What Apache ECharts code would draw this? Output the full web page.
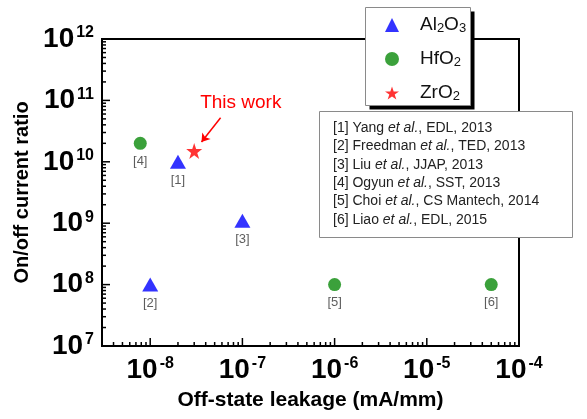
<!DOCTYPE html>
<html><head><meta charset="utf-8">
<script src="https://cdn.jsdelivr.net/npm/echarts@6/dist/echarts.min.js"></script>
<style>html,body{margin:0;padding:0;background:#fff}#c{width:587px;height:419px}</style>
</head><body><div id="c"></div>
<script>
const FONT = "'Liberation Sans', Arial, Helvetica, sans-serif";

// ---- data ----
const al2o3X = [2e-8, 1e-8, 1e-7];
const al2o3Y = [1e10, 1e8, 1.1e9];
const al2o3Labels = ['[1]', '[2]', '[3]'];
const hfo2X = [7.8e-9, 1e-6, 5e-5];
const hfo2Y = [2e10, 1e8, 1e8];
const hfo2Labels = ['[4]', '[5]', '[6]'];
const zro2X = [3e-8];
const zro2Y = [1.5e10];
const xMin = 3e-9, xMax = 1e-4;
const yMin = 1e7, yMax = 1e12;
const xDecades = [-9, -8, -7, -6, -5, -4];
const yDecades = [7, 8, 9, 10, 11, 12];
const seriesNames = ['Al2O3', 'HfO2', 'ZrO2'];
const legendRich = ['{n|Al}{sub|2}{n|O}{sub|3}', '{n|HfO}{sub|2}', '{n|ZrO}{sub|2}'];
const refs = [
  ['[1] Yang ', 'et al.', ', EDL, 2013'],
  ['[2] Freedman ', 'et al.', ', TED, 2013'],
  ['[3] Liu ', 'et al.', ', JJAP, 2013'],
  ['[4] Ogyun ', 'et al.', ', SST, 2013'],
  ['[5] Choi ', 'et al.', ', CS Mantech, 2014'],
  ['[6] Liao ', 'et al.', ', EDL, 2015']
];
const annotText = 'This work';
const annotPos = [9.6e-8, 9.1e10];
const arrowFrom = [5.8e-8, 5.2e10];
const arrowTo = [3.6e-8, 2.1e10];

// ---- helpers ----
const STAR = 'path://M50,0 L61.8,35.4 L99,35.4 L68.9,57.3 L80.4,92.7 L50,70.8 L19.6,92.7 L31.1,57.3 L1,35.4 L38.2,35.4 Z';
function zip(xs, ys, labels) {
  return xs.map((x, i) => ({ value: [x, ys[i]], label: { formatter: labels ? labels[i] : '' } }));
}
function logTicks(decades, lo, hi) {
  const out = [];
  decades.forEach(e => {
    for (let m = 1; m <= 9; m++) {
      const v = m * Math.pow(10, e);
      if (v >= lo * 0.999 && v <= hi * 1.001) out.push([v, m === 1 ? 1 : 0]);
    }
  });
  return out;
}
const xTicks = logTicks(xDecades, xMin, xMax);
const yTicks = logTicks(yDecades, yMin, yMax);

const axisRich = {
  b: { fontSize: 28, fontWeight: 'bold', fontFamily: FONT, color: '#000', lineHeight: 28, padding: [6, 0, 0, 0], verticalAlign: 'bottom' },
  s: { fontSize: 16, fontWeight: 'bold', fontFamily: FONT, color: '#000', lineHeight: 16, padding: [0, 0, 0, 2], verticalAlign: 'top' }
};
function decadeLabel(v) {
  const e = Math.log10(v);
  if (Math.abs(e - Math.round(e)) > 1e-6) return '';
  return '{b|10}{s|' + Math.round(e) + '}';
}

const ptLabel = { show: true, position: 'bottom', distance: 5, fontSize: 13, color: '#333', fontFamily: FONT };

const chart = echarts.init(document.getElementById('c'), null, { renderer: 'canvas' });
chart.setOption({
  animation: false,
  backgroundColor: '#fff',
  grid: { left: 102, top: 39, right: 68, bottom: 73, show: true, borderColor: '#000', borderWidth: 2, backgroundColor: 'transparent' },
  xAxis: {
    type: 'log', logBase: 10, min: xMin, max: xMax,
    axisLine: { show: true, lineStyle: { color: '#000', width: 2 } },
    axisTick: { show: false }, splitLine: { show: false }, minorTick: { show: false },
    axisLabel: { formatter: decadeLabel, rich: axisRich, margin: 10, showMinLabel: false },
    name: 'Off-state leakage (mA/mm)', nameLocation: 'middle', nameGap: 44,
    nameTextStyle: { fontSize: 21, fontWeight: 'bold', fontFamily: FONT, color: '#000' }
  },
  yAxis: {
    type: 'log', logBase: 10, min: yMin, max: yMax,
    axisLine: { show: true, lineStyle: { color: '#000', width: 2 } },
    axisTick: { show: false }, splitLine: { show: false }, minorTick: { show: false },
    axisLabel: { formatter: decadeLabel, rich: axisRich, margin: 8 },
    name: 'On/off current ratio', nameLocation: 'middle', nameGap: 68,
    nameTextStyle: { fontSize: 20, fontWeight: 'bold', fontFamily: FONT, color: '#000' }
  },
  legend: {
    orient: 'vertical', left: 365, top: 7, z: 20,
    data: seriesNames,
    padding: [4, 4, 6, 20], itemGap: 10, itemWidth: 14, itemHeight: 14,
    backgroundColor: 'transparent', borderWidth: 0,
    formatter: name => legendRich[seriesNames.indexOf(name)],
    textStyle: {
      padding: [0, 0, 0, 16], fontFamily: FONT, color: '#111',
      rich: {
        n: { fontSize: 19, fontFamily: FONT, color: '#111', lineHeight: 20, verticalAlign: 'top' },
        sub: { fontSize: 13, fontFamily: FONT, color: '#111', lineHeight: 12, padding: [11, 0, 0, 0], verticalAlign: 'bottom' }
      }
    }
  },
  graphic: [
    { type: 'rect', z: 10, silent: true, shape: { x: 369.5, y: 11.5, width: 105, height: 98 }, style: { fill: '#000' } },
    { type: 'rect', z: 11, silent: true, shape: { x: 365.5, y: 7.5, width: 105, height: 98 }, style: { fill: '#fff', stroke: '#8a8a8a', lineWidth: 1 } },
    {
      type: 'group', left: 319, top: 111, z: 100,
      children: [{
        type: 'rect', shape: { x: 0.5, y: 0.5, width: 253, height: 126 },
        style: { fill: '#fff', stroke: '#8a8a8a', lineWidth: 1 }
      }].concat(refs.map((r, i) => ({
        type: 'text', x: 14, y: 17 + i * 18.4,
        style: {
          text: r[0] + '{i|' + r[1] + '}' + r[2],
          fontSize: 14, fontFamily: FONT, fill: '#222', verticalAlign: 'middle',
          rich: { i: { fontStyle: 'italic', fontSize: 14, fontFamily: FONT, fill: '#222' } }
        }
      })))
    }
  ],
  series: [
    {
      name: 'Al2O3', type: 'scatter', symbol: 'triangle', symbolSize: [16, 14],
      itemStyle: { color: '#0000ff' }, label: ptLabel, data: zip(al2o3X, al2o3Y, al2o3Labels), z: 5
    },
    {
      name: 'HfO2', type: 'scatter', symbol: 'circle', symbolSize: 13,
      itemStyle: { color: '#0a8a0a' }, label: ptLabel, data: zip(hfo2X, hfo2Y, hfo2Labels), z: 5
    },
    {
      name: 'ZrO2', type: 'scatter', symbol: STAR, symbolSize: 16,
      itemStyle: { color: '#ff0000' }, data: zip(zro2X, zro2Y), z: 5,
      markLine: {
        silent: true, symbol: ['none', 'arrow'], symbolSize: 8,
        lineStyle: { color: '#ff0000', width: 1.5, type: 'solid' },
        label: { show: false },
        data: [[{ coord: arrowFrom }, { coord: arrowTo }]]
      },
      markPoint: {
        silent: true, symbol: 'circle', symbolSize: 1, itemStyle: { color: 'rgba(0,0,0,0)' },
        label: { show: true, position: 'inside', formatter: annotText, color: '#ff0000', fontSize: 19, fontFamily: FONT },
        data: [{ coord: annotPos }]
      }
    },
    {
      name: 'xticks', type: 'custom', silent: true, z: 3,
      data: xTicks.map(t => [t[0], yMin, t[1]]),
      renderItem: (params, api) => {
        const p = api.coord([api.value(0), api.value(1)]);
        const len = api.value(2) ? 8 : 4;
        return { type: 'line', shape: { x1: p[0], y1: p[1], x2: p[0], y2: p[1] - len }, style: { stroke: '#000', lineWidth: 1.5 } };
      }
    },
    {
      name: 'yticks', type: 'custom', silent: true, z: 3,
      data: yTicks.map(t => [xMin, t[0], t[1]]),
      renderItem: (params, api) => {
        const p = api.coord([api.value(0), api.value(1)]);
        const len = api.value(2) ? 8 : 4;
        return { type: 'line', shape: { x1: p[0], y1: p[1], x2: p[0] + len, y2: p[1] }, style: { stroke: '#000', lineWidth: 1.5 } };
      }
    }
  ]
});
</script>
</body></html>
